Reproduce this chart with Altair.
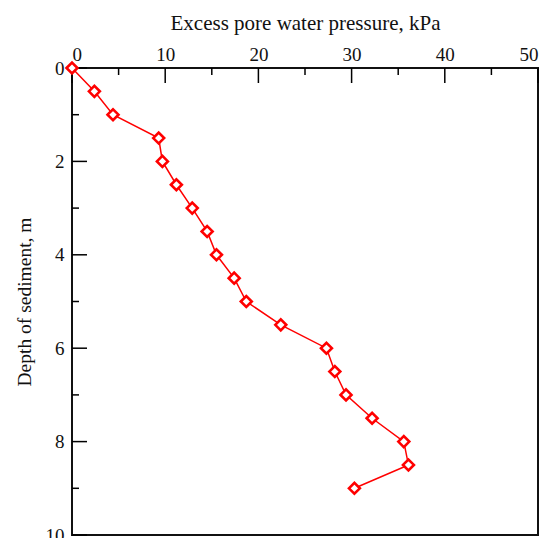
import altair as alt
import pandas as pd

depth = [0, 0.5, 1, 1.5, 2, 2.5, 3, 3.5, 4, 4.5, 5, 5.5, 6, 6.5, 7, 7.5, 8, 8.5, 9]
pressure = [0, 2.4, 4.4, 9.3, 9.7, 11.2, 12.9, 14.5, 15.5, 17.4, 18.7, 22.4,
            27.3, 28.2, 29.4, 32.2, 35.6, 36.1, 30.3]

x_major = [0, 10, 20, 30, 40, 50]
x_minor = [5, 15, 25, 35, 45]
y_major = [0, 2, 4, 6, 8, 10]
y_minor = [1, 3, 5, 7, 9]

df = pd.DataFrame({"depth": depth, "pressure": pressure, "order": list(range(len(depth)))})

FONT = "Liberation Serif"
xscale = alt.Scale(domain=[0, 50], nice=False, zero=False)
yscale = alt.Scale(domain=[0, 10], nice=False, reverse=True)

xenc = alt.X("pressure:Q", scale=xscale,
             axis=alt.Axis(orient="top", title="Excess pore water pressure, kPa",
                           values=x_major, ticks=False, domain=False, grid=False,
                           labelPadding=4, titlePadding=12, titleFontSize=21,
                           format="d"))
yenc = alt.Y("depth:Q", scale=yscale,
             axis=alt.Axis(orient="left", title="Depth of sediment, m",
                           values=y_major, ticks=False, domain=False, grid=False,
                           labelPadding=8, titlePadding=11, titleFontSize=19.5,
                           format="d"))

line = alt.Chart(df).mark_line(color="#ff0000", strokeWidth=1.5).encode(
    x=xenc, y=yenc, order="order:Q")
pts = alt.Chart(df).mark_point(shape="diamond", size=120, filled=False, fill="white",
                               fillOpacity=1, stroke="#ff0000", strokeWidth=2.6,
                               opacity=1).encode(x="pressure:Q", y="depth:Q")

def xticks(vals, length):
    d = pd.DataFrame({"pressure": vals})
    return alt.Chart(d).mark_rule(color="black", strokeWidth=1.5).encode(
        x="pressure:Q", y=alt.value(0), y2=alt.value(length))

def yticks(vals, length):
    d = pd.DataFrame({"depth": vals})
    return alt.Chart(d).mark_rule(color="black", strokeWidth=1.5).encode(
        y="depth:Q", x=alt.value(0), x2=alt.value(length))

chart = alt.layer(
    xticks(x_major, 15), xticks(x_minor, 7),
    yticks(y_major, 15), yticks(y_minor, 7),
    line, pts
).properties(
    width=466, height=467,
    autosize=alt.AutoSizeParams(type="none"),
    padding={"left": 64, "top": 60, "right": 8, "bottom": 8},
).configure_view(
    stroke="#111111", strokeWidth=2
).configure_axis(
    labelFont=FONT, titleFont=FONT, labelFontSize=19,
    titleFontWeight="normal", labelColor="#111111", titleColor="#111111"
)

chart.save("out.html", embed_options={"renderer": "svg", "actions": False})
